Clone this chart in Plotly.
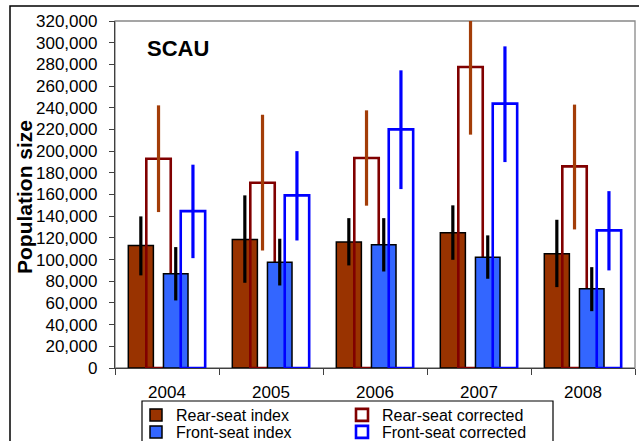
import plotly.graph_objects as go

years = ["2004", "2005", "2006", "2007", "2008"]

rear_index = [113000, 118600, 116100, 124700, 105400]
rear_index_hi = [139800, 159200, 138200, 150000, 136700]
rear_index_lo = [85400, 78600, 94600, 99800, 74600]

front_index = [86900, 97600, 113700, 102200, 73100]
front_index_hi = [111500, 119200, 138200, 122300, 93000]
front_index_lo = [62300, 76100, 89000, 82300, 52400]

rear_corr = [193000, 170900, 193600, 277600, 185900]
rear_corr_hi = [242200, 233600, 237600, 323700, 242900]
rear_corr_lo = [143800, 108400, 149700, 215200, 127800]

front_corr = [144700, 159200, 220100, 243800, 126900]
front_corr_hi = [187500, 200000, 274500, 296600, 163100]
front_corr_lo = [101300, 117600, 165000, 189900, 90000]

y_ticks = list(range(0, 320001, 20000))

FONT = "Arial, Liberation Sans, sans-serif"
W, H = 639, 441
L, R, T, B = 115, 4, 21, 73
pw, ph = W - L - R, H - T - B


def px_x(p):
    return (p - L) / pw


def px_y(p):
    return (H - B - p) / ph


def err(vals, hi, lo, color):
    return dict(type="data", symmetric=False,
                array=[h - v for v, h in zip(vals, hi)],
                arrayminus=[v - l for v, l in zip(vals, lo)],
                color=color, thickness=3.2, width=0)


fig = go.Figure()
fig.add_trace(go.Bar(
    name="Rear-seat index", x=years, y=rear_index, offset=-0.372, width=0.241,
    marker=dict(color="#993300", line=dict(color="#000000", width=1.5)),
    error_y=err(rear_index, rear_index_hi, rear_index_lo, "#000000"), legend="legend"))
fig.add_trace(go.Bar(
    name="Rear-seat corrected", x=years, y=rear_corr, offset=-0.199, width=0.235,
    marker=dict(color="rgba(0,0,0,0)", line=dict(color="#800000", width=2.6)),
    error_y=err(rear_corr, rear_corr_hi, rear_corr_lo, "#A33D08"), legend="legend2"))
fig.add_trace(go.Bar(
    name="Front-seat index", x=years, y=front_index, offset=-0.034, width=0.236,
    marker=dict(color="#3366FF", line=dict(color="#000000", width=1.5)),
    error_y=err(front_index, front_index_hi, front_index_lo, "#000000"), legend="legend3"))
fig.add_trace(go.Bar(
    name="Front-seat corrected", x=years, y=front_corr, offset=0.132, width=0.235,
    marker=dict(color="rgba(0,0,0,0)", line=dict(color="#0000FF", width=2.6)),
    error_y=err(front_corr, front_corr_hi, front_corr_lo, "#0000FF"), legend="legend4"))


def leg(xp, yp):
    return dict(orientation="v", xref="container", yref="container",
                x=xp / W, y=1 - yp / H, xanchor="left", yanchor="middle",
                bgcolor="rgba(0,0,0,0)", borderwidth=0, itemwidth=30,
                font=dict(family=FONT, size=16, color="#000000"))


fig.update_layout(
    width=W, height=H,
    margin=dict(l=L, r=R, t=T, b=B, pad=0, autoexpand=False),
    paper_bgcolor="white", plot_bgcolor="white",
    barmode="overlay",
    font=dict(family=FONT, size=17, color="#000000"),
    showlegend=True,
    legend=leg(136, 415),
    legend2=leg(342, 415),
    legend3=leg(136, 432),
    legend4=leg(342, 432),
    xaxis=dict(
        type="category", tickson="boundaries", ticks="outside", ticklen=6,
        tickcolor="#404040", showline=True, linecolor="#404040", linewidth=1.3,
        showgrid=False, tickfont=dict(size=17), ticklabelstandoff=8,
        automargin=False,
    ),
    yaxis=dict(
        range=[0, 320000], tickvals=y_ticks, tickformat=",d", ticks="outside",
        ticklen=5, tickcolor="#404040", showline=True, linecolor="#404040",
        linewidth=1.3, showgrid=False, zeroline=False, tickfont=dict(size=17),
        ticklabelstandoff=8, automargin=False,
    ),
    shapes=[
        dict(type="rect", xref="paper", yref="paper", x0=0, x1=1, y0=0, y1=1,
             line=dict(color="#888888", width=1.3), layer="below"),
        dict(type="rect", xref="paper", yref="paper", x0=px_x(10), x1=px_x(700),
             y0=px_y(520), y1=px_y(6), line=dict(color="#000000", width=1.5),
             layer="below"),
        dict(type="rect", xref="paper", yref="paper", x0=px_x(142), x1=px_x(553),
             y0=px_y(460), y1=px_y(401), line=dict(color="#000000", width=1.2),
             fillcolor="white", layer="below"),
    ],
    annotations=[
        dict(text="<b>SCAU</b>", xref="paper", yref="paper", x=px_x(178), y=px_y(48),
             xanchor="center", yanchor="middle", showarrow=False,
             font=dict(family=FONT, size=22, color="#000000")),
        dict(text="<b>Population size</b>", xref="paper", yref="paper",
             x=px_x(24), y=px_y(197), xanchor="center", yanchor="middle",
             textangle=-90, showarrow=False,
             font=dict(family=FONT, size=21, color="#000000")),
    ],
)

fig.write_html("out.html", config={"displayModeBar": False},
               post_script="document.body.style.margin='0px';")
